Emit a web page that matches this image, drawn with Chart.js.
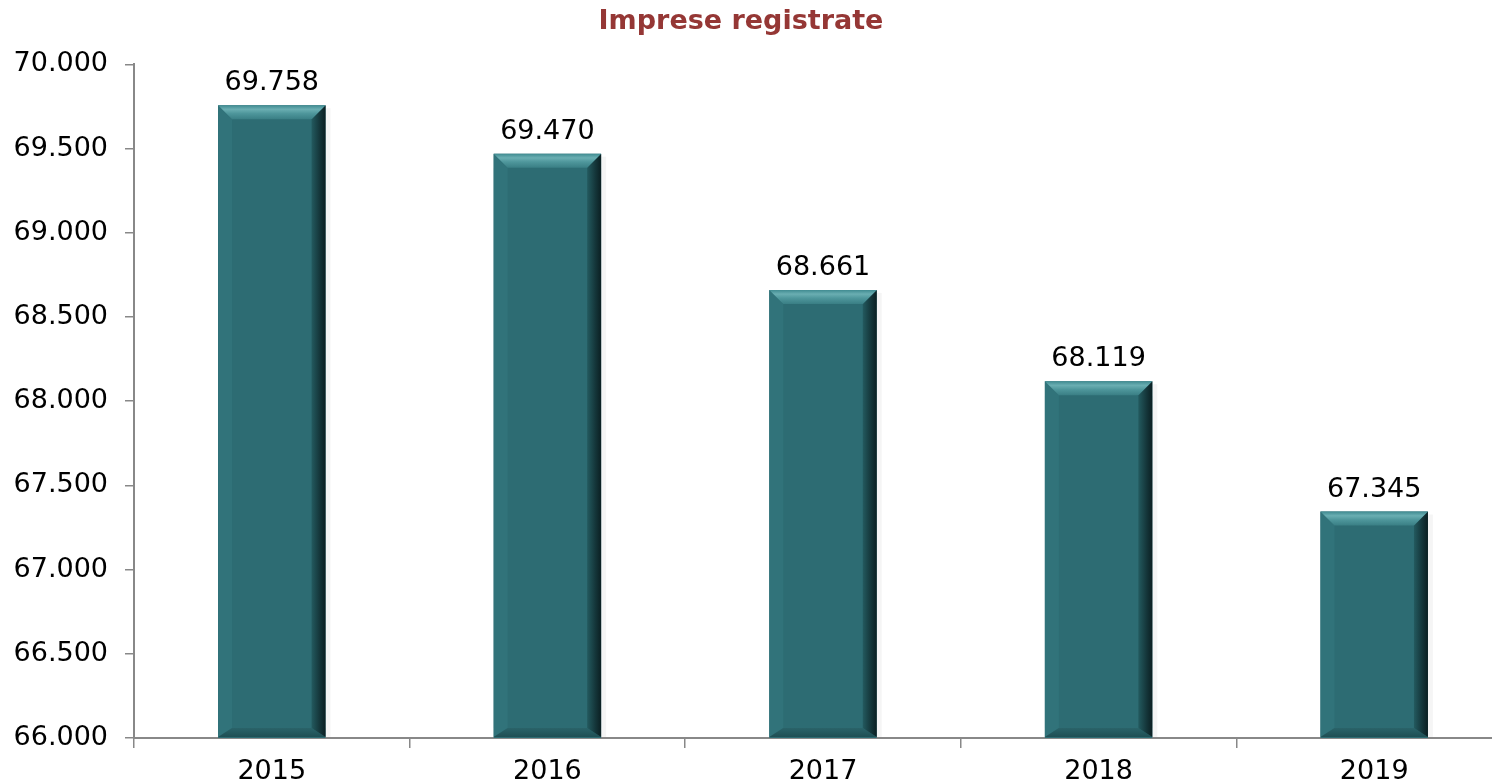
<!DOCTYPE html>
<html><head><meta charset="utf-8">
<script src="https://cdn.jsdelivr.net/npm/chart.js@4.4.1/dist/chart.umd.min.js"></script>
<style>
html,body{margin:0;padding:0;overflow:hidden;background:#fff;width:1492px;height:784px}
#wrap{position:absolute;left:-30px;top:0;width:1542px;height:784px}
</style></head><body>
<div id="wrap"><canvas id="c" width="1542" height="784"></canvas></div>
<script>
const categories = ['2015', '2016', '2017', '2018', '2019'];
const values = [69758, 69470, 68661, 68119, 67345];
const yMin = 66000;
const yMax = 70000;
const yStep = 500;
const titleText = 'Imprese registrate';

const FONT = '"DejaVu Sans", Verdana, sans-serif';
function fmt(v) { return String(Math.round(v)).replace(/\B(?=(\d{3})+(?!\d))/g, '.'); }

const bevelAndLabels = {
  id: 'bevelAndLabels',
  afterDatasetsDraw(chart) {
    const ctx = chart.ctx;
    const meta = chart.getDatasetMeta(0);
    const area = chart.chartArea;
    meta.data.forEach((bar, i) => {
      const w = bar.width;
      const l = bar.x - w / 2, r = bar.x + w / 2, t = bar.y;
      const b = Math.min(bar.base, area.bottom) - 1;
      const s = 14, sb = 9;
      ctx.save();
      // soft shadow right
      ctx.fillStyle = 'rgba(0,0,0,0.04)';
      ctx.fillRect(r, t + 3, 5, b - t - 3);
      // left band
      ctx.fillStyle = '#31737a';
      ctx.beginPath(); ctx.moveTo(l, t); ctx.lineTo(l + s, t + s); ctx.lineTo(l + s, b - sb); ctx.lineTo(l, b); ctx.closePath(); ctx.fill();
      // bottom band
      const gb = ctx.createLinearGradient(0, b - sb, 0, b);
      gb.addColorStop(0, '#2a6369'); gb.addColorStop(1, '#1f4f54');
      ctx.fillStyle = gb;
      ctx.beginPath(); ctx.moveTo(l, b); ctx.lineTo(l + s, b - sb); ctx.lineTo(r - s, b - sb); ctx.lineTo(r, b); ctx.closePath(); ctx.fill();
      // right band
      const gr = ctx.createLinearGradient(r - s, 0, r, 0);
      gr.addColorStop(0, '#235a5f'); gr.addColorStop(0.6, '#143539'); gr.addColorStop(1, '#0b1f22');
      ctx.fillStyle = gr;
      ctx.beginPath(); ctx.moveTo(r, t); ctx.lineTo(r, b); ctx.lineTo(r - s, b - sb); ctx.lineTo(r - s, t + s); ctx.closePath(); ctx.fill();
      // top band
      const gt = ctx.createLinearGradient(0, t, 0, t + s);
      gt.addColorStop(0, '#3f8a90'); gt.addColorStop(0.3, '#6aaeb2'); gt.addColorStop(0.6, '#4e969b'); gt.addColorStop(1, '#3a7f85');
      ctx.fillStyle = gt;
      ctx.beginPath(); ctx.moveTo(l, t); ctx.lineTo(r, t); ctx.lineTo(r - s, t + s); ctx.lineTo(l + s, t + s); ctx.closePath(); ctx.fill();
      // value label
      ctx.font = '27px ' + FONT;
      ctx.fillStyle = '#000';
      ctx.textAlign = 'center';
      ctx.textBaseline = 'alphabetic';
      ctx.fillText(fmt(values[i]), bar.x, t - 15);
      ctx.restore();
    });
  }
};

new Chart(document.getElementById('c'), {
  type: 'bar',
  data: {
    labels: categories,
    datasets: [{
      label: titleText,
      data: values,
      backgroundColor: '#2d6c73',
      borderWidth: 0,
      barPercentage: 0.39,
      categoryPercentage: 1.0
    }]
  },
  options: {
    responsive: false,
    animation: false,
    devicePixelRatio: 1,
    layout: { padding: 0 },
    plugins: {
      legend: { display: false },
      tooltip: { enabled: false },
      title: {
        display: true,
        text: titleText,
        color: '#953735',
        font: { family: FONT, size: 27, weight: 'bold' },
        padding: { top: 6, bottom: 26 }
      }
    },
    scales: {
      x: {
        afterFit(scale) { scale.height = 46; },
        grid: { display: true, drawOnChartArea: false, offset: true, tickLength: 10, color: '#888', lineWidth: 1.5 },
        border: { display: true, color: '#888', width: 2 },
        ticks: { color: '#000', font: { family: FONT, size: 27 }, padding: 8, maxRotation: 0 }
      },
      y: {
        min: yMin, max: yMax,
        afterFit(scale) { scale.width = 164; },
        grid: { display: true, drawOnChartArea: false, tickLength: 9, color: '#888', lineWidth: 1.5 },
        border: { display: true, color: '#888', width: 2 },
        ticks: { stepSize: yStep, color: '#000', font: { family: FONT, size: 27 }, padding: 17, callback: (v) => fmt(v) }
      }
    }
  },
  plugins: [bevelAndLabels]
});
</script>
</body></html>
